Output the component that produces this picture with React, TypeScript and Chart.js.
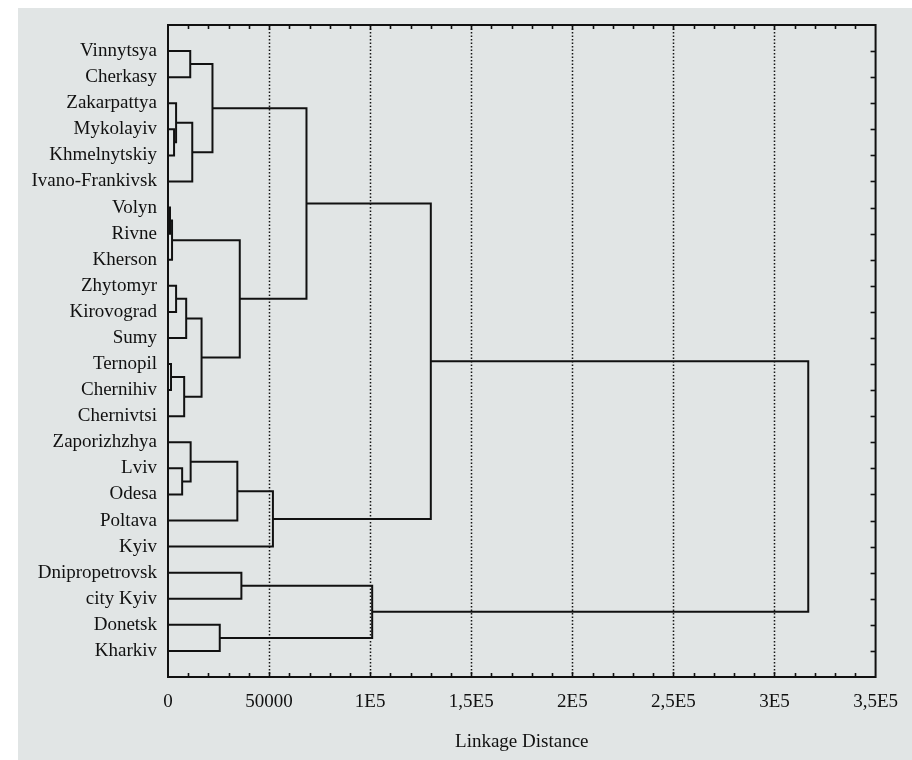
import { useEffect, useRef } from "react";
import { Chart, registerables } from "chart.js";

Chart.register(...registerables);

// Leaves (top to bottom)
const leaves = [
  "Vinnytsya",
  "Cherkasy",
  "Zakarpattya",
  "Mykolayiv",
  "Khmelnytskiy",
  "Ivano-Frankivsk",
  "Volyn",
  "Rivne",
  "Kherson",
  "Zhytomyr",
  "Kirovograd",
  "Sumy",
  "Ternopil",
  "Chernihiv",
  "Chernivtsi",
  "Zaporizhzhya",
  "Lviv",
  "Odesa",
  "Poltava",
  "Kyiv",
  "Dnipropetrovsk",
  "city Kyiv",
  "Donetsk",
  "Kharkiv",
];

// Merge list: [child A, child B, linkage distance]; node ids >= 24 are earlier merges (24 + k)
const merges: [number, number, number][] = [
  [3, 4, 3000], // 24
  [2, 24, 4000], // 25
  [25, 5, 12000], // 26
  [0, 1, 11000], // 27
  [27, 26, 22000], // 28
  [6, 7, 1000], // 29
  [29, 8, 2000], // 30
  [9, 10, 4000], // 31
  [31, 11, 9000], // 32
  [12, 13, 1500], // 33
  [33, 14, 8000], // 34
  [32, 34, 16600], // 35
  [30, 35, 35500], // 36
  [28, 36, 68500], // 37
  [16, 17, 7000], // 38
  [15, 38, 11200], // 39
  [39, 18, 34300], // 40
  [40, 19, 51900], // 41
  [37, 41, 130000], // 42
  [20, 21, 36300], // 43
  [22, 23, 25600], // 44
  [43, 44, 101000], // 45
  [42, 45, 316700], // 46
];

const xTickValues = [0, 50000, 100000, 150000, 200000, 250000, 300000, 350000];
const xTickLabels = ["0", "50000", "1E5", "1,5E5", "2E5", "2,5E5", "3E5", "3,5E5"];
const xMin = 0;
const xMax = 350000;
const minorStep = 10000;
const axisTitle = "Linkage Distance";

const FONT = "'Liberation Serif', 'DejaVu Serif', serif";
const INK = "#111111";

function buildLinks() {
  const nodes: { y: number; h: number }[] = leaves.map((_, i) => ({ y: i, h: 0 }));
  const links: { x: number; y: number }[][] = [];
  merges.forEach(([a, b, h]) => {
    const A = nodes[a];
    const B = nodes[b];
    links.push([
      { x: A.h, y: A.y },
      { x: h, y: A.y },
      { x: h, y: B.y },
      { x: B.h, y: B.y },
    ]);
    nodes.push({ y: (A.y + B.y) / 2, h });
  });
  return links;
}

const framePlugin = {
  id: "dendroFrame",
  beforeDraw(chart: any) {
    const ctx = chart.ctx;
    ctx.save();
    ctx.fillStyle = "#ffffff";
    ctx.fillRect(0, 0, chart.width, chart.height);
    ctx.fillStyle = "#e1e5e5";
    ctx.fillRect(18, 8, chart.width - 18, chart.height - 8);
    ctx.restore();
  },
  beforeDatasetsDraw(chart: any) {
    const ctx = chart.ctx;
    const { top, bottom } = chart.chartArea;
    const xs = chart.scales.x;
    ctx.save();
    ctx.strokeStyle = "#151515";
    ctx.lineWidth = 1.5;
    ctx.setLineDash([1.5, 2]);
    xTickValues.forEach((v) => {
      if (v <= xMin || v >= xMax) return;
      const x = Math.round(xs.getPixelForValue(v)) + 0.5;
      ctx.beginPath();
      ctx.moveTo(x, top);
      ctx.lineTo(x, bottom);
      ctx.stroke();
    });
    ctx.restore();
  },
  afterDatasetsDraw(chart: any) {
    const ctx = chart.ctx;
    const { left, right, top, bottom } = chart.chartArea;
    const xs = chart.scales.x;
    const ys = chart.scales.y;
    ctx.save();
    ctx.strokeStyle = INK;
    ctx.setLineDash([]);
    // minor / major ticks on top and bottom, inward
    for (let v = xMin + minorStep; v < xMax; v += minorStep) {
      const x = Math.round(xs.getPixelForValue(v)) + 0.5;
      const major = xTickValues.includes(v);
      const len = major ? 5 : 4;
      ctx.lineWidth = 1.6;
      ctx.beginPath();
      ctx.moveTo(x, top);
      ctx.lineTo(x, top + len);
      ctx.moveTo(x, bottom);
      ctx.lineTo(x, bottom - len);
      ctx.stroke();
    }
    // right side ticks at each leaf
    leaves.forEach((_, i) => {
      const y = Math.round(ys.getPixelForValue(i)) + 0.5;
      ctx.lineWidth = 1.6;
      ctx.beginPath();
      ctx.moveTo(right, y);
      ctx.lineTo(right - 5, y);
      ctx.stroke();
    });
    // frame
    ctx.lineWidth = 2;
    ctx.strokeRect(left, top, right - left, bottom - top);
    ctx.restore();
  },
  afterDraw(chart: any) {
    const ctx = chart.ctx;
    const { left, right } = chart.chartArea;
    ctx.save();
    ctx.fillStyle = INK;
    ctx.font = `19px ${FONT}`;
    ctx.textAlign = "center";
    ctx.textBaseline = "middle";
    ctx.fillText(axisTitle, (left + right) / 2, 742);
    ctx.restore();
  },
};

export default function App() {
  const canvasRef = useRef<HTMLCanvasElement | null>(null);

  useEffect(() => {
    const canvas = canvasRef.current;
    if (!canvas) return;
    const links = buildLinks();
    const chart = new Chart(canvas, {
      type: "scatter",
      data: {
        datasets: links.map((pts, i) => ({
          label: `link ${i}`,
          data: pts,
          showLine: true,
          borderColor: INK,
          borderWidth: 2,
          pointRadius: 0,
          pointHoverRadius: 0,
          tension: 0,
          fill: false,
          clip: 4,
          borderJoinStyle: "miter" as const,
        })),
      },
      options: {
        animation: false,
        responsive: false,
        maintainAspectRatio: false,
        devicePixelRatio: 1,
        layout: { padding: { left: 0, top: 25, right: 33, bottom: 0 } },
        plugins: {
          legend: { display: false },
          tooltip: { enabled: false },
          title: { display: false },
        },
        scales: {
          x: {
            type: "linear",
            position: "bottom",
            min: xMin,
            max: xMax,
            grid: { display: false, drawTicks: false },
            border: { display: false },
            afterBuildTicks: (s: any) => {
              s.ticks = xTickValues.map((v) => ({ value: v }));
            },
            afterFit: (s: any) => {
              s.height = 83;
            },
            ticks: {
              autoSkip: false,
              maxRotation: 0,
              minRotation: 0,
              padding: 14,
              color: INK,
              font: { family: FONT, size: 19 },
              callback: (_v: any, i: number) => xTickLabels[i] ?? "",
            },
          },
          y: {
            type: "linear",
            position: "left",
            min: -1,
            max: leaves.length,
            reverse: true,
            grid: { display: false, drawTicks: false },
            border: { display: false },
            afterBuildTicks: (s: any) => {
              s.ticks = leaves.map((_, i) => ({ value: i }));
            },
            afterFit: (s: any) => {
              s.width = 168;
            },
            ticks: {
              autoSkip: false,
              padding: 11,
              color: INK,
              font: { family: FONT, size: 19 },
              callback: (_v: any, i: number) => leaves[i] ?? "",
            },
          },
        },
      },
      plugins: [framePlugin],
    });
    return () => chart.destroy();
  }, []);

  return (
    <div
      style={{
        position: "absolute",
        left: 0,
        top: 0,
        width: 912,
        height: 760,
        background: "#ffffff",
      }}
    >
      <canvas ref={canvasRef} width={912} height={760} style={{ display: "block" }} />
    </div>
  );
}
